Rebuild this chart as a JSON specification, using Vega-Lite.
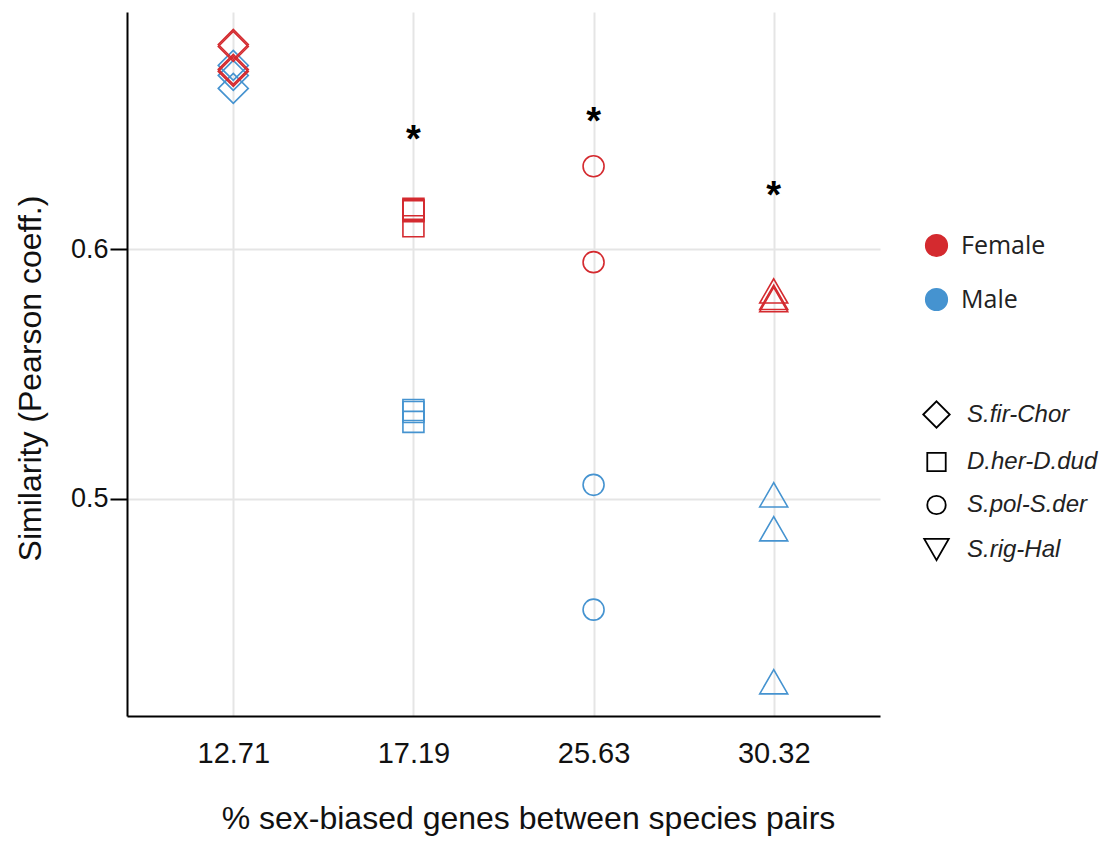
{
  "$schema": "https://vega.github.io/schema/vega-lite/v6.json",
  "width": 753,
  "height": 704,
  "autosize": {"type": "none"},
  "padding": {"left": 127, "top": 12, "right": 235, "bottom": 125},
  "background": "white",
  "config": {"view": {"stroke": null}, "font": "Liberation Sans"},
  "datasets": {
    "points": [
      {"pct": "12.71", "sex": "Male", "pair": "S.fir-Chor", "similarity": 0.6736},
      {"pct": "12.71", "sex": "Male", "pair": "S.fir-Chor", "similarity": 0.6696},
      {"pct": "12.71", "sex": "Male", "pair": "S.fir-Chor", "similarity": 0.6644},
      {"pct": "12.71", "sex": "Female", "pair": "S.fir-Chor", "similarity": 0.682},
      {"pct": "12.71", "sex": "Female", "pair": "S.fir-Chor", "similarity": 0.6812},
      {"pct": "12.71", "sex": "Female", "pair": "S.fir-Chor", "similarity": 0.672},
      {"pct": "12.71", "sex": "Female", "pair": "S.fir-Chor", "similarity": 0.6712},
      {"pct": "17.19", "sex": "Female", "pair": "D.her-D.dud", "similarity": 0.6162},
      {"pct": "17.19", "sex": "Female", "pair": "D.her-D.dud", "similarity": 0.6156},
      {"pct": "17.19", "sex": "Female", "pair": "D.her-D.dud", "similarity": 0.6152},
      {"pct": "17.19", "sex": "Female", "pair": "D.her-D.dud", "similarity": 0.6092},
      {"pct": "17.19", "sex": "Male", "pair": "D.her-D.dud", "similarity": 0.5356},
      {"pct": "17.19", "sex": "Male", "pair": "D.her-D.dud", "similarity": 0.5348},
      {"pct": "17.19", "sex": "Male", "pair": "D.her-D.dud", "similarity": 0.5308},
      {"pct": "25.63", "sex": "Female", "pair": "S.pol-S.der", "similarity": 0.6332},
      {"pct": "25.63", "sex": "Female", "pair": "S.pol-S.der", "similarity": 0.5948},
      {"pct": "25.63", "sex": "Male", "pair": "S.pol-S.der", "similarity": 0.5056},
      {"pct": "25.63", "sex": "Male", "pair": "S.pol-S.der", "similarity": 0.4556},
      {"pct": "30.32", "sex": "Female", "pair": "S.rig-Hal", "similarity": 0.5833},
      {"pct": "30.32", "sex": "Female", "pair": "S.rig-Hal", "similarity": 0.5807},
      {"pct": "30.32", "sex": "Female", "pair": "S.rig-Hal", "similarity": 0.5798},
      {"pct": "30.32", "sex": "Male", "pair": "S.rig-Hal", "similarity": 0.5016},
      {"pct": "30.32", "sex": "Male", "pair": "S.rig-Hal", "similarity": 0.488},
      {"pct": "30.32", "sex": "Male", "pair": "S.rig-Hal", "similarity": 0.4267}
    ],
    "stars": [
      {"pct": "17.19", "y": 0.6433, "label": "*"},
      {"pct": "25.63", "y": 0.6505, "label": "*"},
      {"pct": "30.32", "y": 0.6209, "label": "*"}
    ]
  },
  "resolve": {"scale": {"shape": "independent", "size": "independent"}, "legend": {"shape": "independent", "size": "independent"}},
  "layer": [
    {
      "data": {"name": "points"},
      "mark": {"type": "point", "filled": true, "fillOpacity": 0, "strokeWidth": 1.6, "opacity": 1},
      "encoding": {
        "x": {
          "field": "pct",
          "type": "ordinal",
          "scale": {"type": "point", "domain": ["12.71", "17.19", "25.63", "30.32"], "padding": 0.59},
          "axis": {
            "title": "% sex-biased genes between species pairs",
            "titleFontSize": 32,
            "titleFontWeight": "normal",
            "titleColor": "#111",
            "titleX": 401,
            "titleY": 102,
            "titleBaseline": "middle",
            "titleAlign": "center",
            "labelAngle": 0,
            "labelFontSize": 29,
            "labelColor": "#111",
            "labelPadding": 23,
            "ticks": false,
            "tickSize": 0,
            "domainColor": "black",
            "domainWidth": 2,
            "grid": true,
            "gridColor": "#e5e5e5",
            "gridWidth": 2
          }
        },
        "y": {
          "field": "similarity",
          "type": "quantitative",
          "scale": {"domain": [0.413, 0.695], "nice": false, "zero": false},
          "axis": {
            "title": "Similarity (Pearson coeff.)",
            "titleFontSize": 32,
            "titleFontWeight": "normal",
            "titleColor": "#111",
            "titleX": -97,
            "titleY": 366,
            "titleAngle": -90,
            "titleBaseline": "middle",
            "titleAlign": "center",
            "values": [0.5, 0.6],
            "format": ".1f",
            "labelFontSize": 27,
            "labelColor": "#111",
            "labelPadding": 2,
            "tickSize": 17,
            "tickWidth": 2,
            "tickColor": "black",
            "domainColor": "black",
            "domainWidth": 2,
            "grid": true,
            "gridColor": "#e5e5e5",
            "gridWidth": 2
          }
        },
        "color": {
          "field": "sex",
          "type": "nominal",
          "scale": {"domain": ["Female", "Male"], "range": ["#d42a2f", "#4593d0"]},
          "legend": {
            "title": null,
            "orient": "none",
            "legendX": 797,
            "legendY": 221,
            "padding": 0,
            "symbolType": "circle",
            "symbolSize": 470,
            "symbolOpacity": 1,
            "labelFontSize": 25,
            "labelFont": "Open Sans",
            "labelColor": "#222",
            "labelOffset": 12,
            "rowPadding": 25
          }
        },
        "stroke": {
          "field": "sex",
          "type": "nominal",
          "scale": {"domain": ["Female", "Male"], "range": ["#d42a2f", "#4593d0"]},
          "legend": null
        },
        "shape": {
          "field": "pair",
          "type": "nominal",
          "scale": {
            "domain": ["S.fir-Chor", "D.her-D.dud", "S.pol-S.der", "S.rig-Hal"],
            "range": ["diamond", "square", "circle", "triangle-up"]
          },
          "legend": null
        },
        "size": {
          "condition": [
            {"test": "datum.pair === 'S.fir-Chor'", "value": 900},
            {"test": "datum.pair === 'S.rig-Hal'", "value": 784}
          ],
          "value": 441
        }
      }
    },
    {
      "data": {"name": "points"},
      "mark": {"type": "point", "filled": false, "opacity": 0, "strokeWidth": 1.8},
      "encoding": {
        "x": {"field": "pct", "type": "ordinal"},
        "y": {"field": "similarity", "type": "quantitative"},
        "shape": {
          "field": "pair",
          "type": "nominal",
          "scale": {
            "domain": ["S.fir-Chor", "D.her-D.dud", "S.pol-S.der", "S.rig-Hal"],
            "range": ["diamond", "square", "circle", "triangle-down"]
          },
          "legend": {
            "title": null,
            "orient": "none",
            "legendX": 795,
            "legendY": 388,
            "padding": 0,
            "symbolStrokeColor": "black",
            "symbolFillColor": "transparent",
            "symbolStrokeWidth": 1.8,
            "symbolOpacity": 1,
            "labelFontSize": 24,
            "labelFont": "Liberation Sans",
            "labelFontStyle": "italic",
            "labelColor": "#222",
            "labelOffset": 16,
            "rowPadding": 17
          }
        },
        "size": {
          "field": "pair",
          "type": "nominal",
          "scale": {
            "type": "ordinal",
            "domain": ["S.fir-Chor", "D.her-D.dud", "S.pol-S.der", "S.rig-Hal"],
            "range": [700, 340, 340, 600]
          },
          "legend": {
            "title": null,
            "orient": "none",
            "legendX": 795,
            "legendY": 388,
            "padding": 0,
            "symbolStrokeColor": "black",
            "symbolFillColor": "transparent",
            "symbolStrokeWidth": 1.8,
            "symbolOpacity": 1,
            "labelFontSize": 24,
            "labelFont": "Liberation Sans",
            "labelFontStyle": "italic",
            "labelColor": "#222",
            "labelOffset": 16,
            "rowPadding": 17
          }
        }
      }
    },
    {
      "data": {"name": "stars"},
      "mark": {"type": "text", "fontSize": 38, "fontWeight": "bold", "baseline": "middle", "align": "center", "color": "black"},
      "encoding": {
        "x": {"field": "pct", "type": "ordinal"},
        "y": {"field": "y", "type": "quantitative"},
        "text": {"field": "label"}
      }
    }
  ]
}
